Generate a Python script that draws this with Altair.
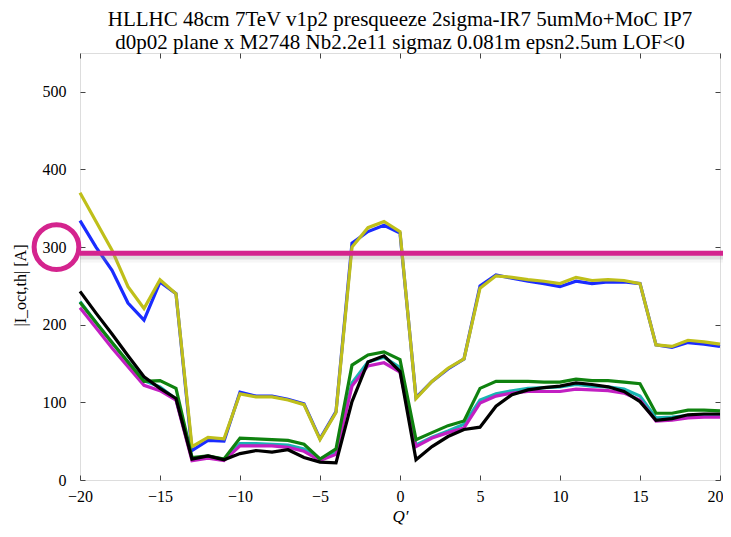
import altair as alt
import pandas as pd

q = list(range(-20, 21))

blue = [334, 300, 270, 228, 206, 255, 240, 38, 51, 50, 113, 108, 108, 104, 98, 53, 88, 305,
        320, 328, 318, 106, 127, 143, 156, 250, 264, 260, 256, 253, 249, 256, 253, 255, 255, 253,
        174, 171, 177, 175, 172]
yellow = [370, 333, 296, 249, 221, 258, 240, 43, 55, 53, 111, 107, 107, 103, 97, 52, 87, 300,
          325, 333, 320, 105, 127, 144, 156, 247, 263, 261, 258, 256, 253, 261, 257, 258, 257, 253,
          174, 172, 180, 178, 175]
cyan = [230, 203, 177, 152, 128, 120, 104, 28, 30, 27, 47, 47, 46, 45, 40, 27, 35, 125,
        152, 158, 145, 45, 55, 63, 72, 103, 111, 115, 118, 119, 120, 123, 121, 120, 117, 108,
        80, 81, 83, 84, 84]
magenta = [222, 196, 170, 146, 122, 115, 103, 25, 28, 25, 44, 44, 44, 42, 37, 25, 33, 121,
           147, 151, 139, 43, 54, 61, 67, 99, 108, 112, 114, 114, 114, 117, 116, 115, 112, 103,
           76, 77, 80, 81, 81]
green = [229, 203, 177, 152, 127, 128, 118, 29, 31, 27, 54, 53, 52, 51, 46, 27, 40, 148,
         161, 165, 155, 52, 61, 70, 76, 118, 127, 127, 127, 126, 126, 130, 128, 128, 126, 124,
         86, 86, 90, 90, 89]
black = [243, 215, 188, 160, 133, 118, 105, 27, 31, 26, 34, 38, 36, 39, 29, 23, 22, 101,
         152, 160, 140, 26, 43, 56, 65, 68, 95, 110, 116, 119, 121, 125, 123, 120, 114, 101,
         77, 79, 84, 85, 85]

series = [
    ("blue", blue, "#1a2cff"),
    ("yellow", yellow, "#bfbf1a"),
    ("cyan", cyan, "#1ab3b3"),
    ("magenta", magenta, "#c21fc2"),
    ("green", green, "#0f820f"),
    ("black", black, "#000000"),
]

x_ticks = [-20, -15, -10, -5, 0, 5, 10, 15, 20]
y_ticks = [0, 100, 200, 300, 400, 500]

threshold_x = [-20]
threshold_x2 = [20.5]
threshold_y = [292]
shadow_y = [288]
circle_x = [-21.47]
circle_y = [300]

title_lines = [
    "HLLHC 48cm 7TeV v1p2 presqueeze 2sigma-IR7 5umMo+MoC IP7",
    "d0p02 plane x M2748 Nb2.2e11 sigmaz 0.081m epsn2.5um LOF<0",
]

FONT = "Liberation Serif"
xscale = alt.Scale(domain=[-20, 20], nice=False, zero=False)
yscale = alt.Scale(domain=[0, 550], nice=False)

x_axis = alt.Axis(values=x_ticks, offset=-5, tickSize=5, tickWidth=1, tickColor="#444444",
                  domain=False, grid=False, labelFont=FONT, labelFontSize=16, labelColor="black",
                  labelFlush=False, labelPadding=8,
                  labelOffset={"condition": {"test": "datum.value == 20", "value": -5}, "value": 0},
                  title="Q′", titleFont=FONT, titleFontSize=17,
                  titleFontStyle="italic", titleFontWeight="normal", titleColor="black",
                  titleY=46, titleBaseline="alphabetic")
y_axis = alt.Axis(values=y_ticks, offset=-5, tickSize=5, tickWidth=1, tickColor="#444444",
                  domain=False, grid=False, labelFont=FONT, labelFontSize=16, labelColor="black",
                  labelFlush=False, labelPadding=14, title="|I_oct,th| [A]", titleFont=FONT,
                  titleFontSize=16, titleFontWeight="normal", titleColor="black", titleX=-65,
                  titleY=232, titleBaseline="middle", titleAngle=270, titleAlign="center")
x_top = alt.Axis(values=x_ticks, orient="top", offset=-5, tickSize=5, tickWidth=1,
                 tickColor="#444444", domain=False, grid=False, labels=False, title=None)
y_right = alt.Axis(values=y_ticks, orient="right", offset=-5, tickSize=5, tickWidth=1,
                   tickColor="#444444", domain=False, grid=False, labels=False, title=None)

layers = []
for i, (name, vals, col) in enumerate(series):
    df = pd.DataFrame({"q": q, "v": vals})
    if i == 0:
        enc = dict(x=alt.X("q:Q", scale=xscale, axis=x_axis),
                   y=alt.Y("v:Q", scale=yscale, axis=y_axis))
    else:
        enc = dict(x=alt.X("q:Q", scale=xscale, axis=None),
                   y=alt.Y("v:Q", scale=yscale, axis=None))
    layers.append(alt.Chart(df).mark_line(color=col, strokeWidth=3.2, strokeJoin="miter").encode(**enc))

hl = pd.DataFrame({"x": threshold_x, "x2": threshold_x2, "y": threshold_y, "ys": shadow_y})
shadow = alt.Chart(hl).mark_rule(color="#888888", strokeWidth=6, opacity=0.2).encode(
    x=alt.X("x:Q", scale=xscale, axis=None), x2="x2:Q",
    y=alt.Y("ys:Q", scale=yscale, axis=None))
shadow2 = alt.Chart(hl).mark_rule(color="#aaaaaa", strokeWidth=12, opacity=0.1).encode(
    x=alt.X("x:Q", scale=xscale, axis=None), x2="x2:Q",
    y=alt.Y("ys:Q", scale=yscale, axis=None))
rule = alt.Chart(hl).mark_rule(color="#d4248e", strokeWidth=5).encode(
    x=alt.X("x:Q", scale=xscale, axis=x_top), x2="x2:Q",
    y=alt.Y("y:Q", scale=yscale, axis=y_right))

cd = pd.DataFrame({"x": circle_x, "y": circle_y})
circle = alt.Chart(cd).mark_point(shape="circle", size=2000, filled=False, strokeWidth=5,
                                  color="#d4248e", opacity=1).encode(
    x=alt.X("x:Q", scale=xscale, axis=None),
    y=alt.Y("y:Q", scale=yscale, axis=None))

chart = alt.layer(*layers, shadow2, shadow, rule, circle).resolve_axis(
    x="independent", y="independent"
).properties(
    width=640, height=427,
    title=alt.TitleParams(text=title_lines, font=FONT, fontSize=21, fontWeight="normal",
                          color="black", anchor="middle", offset=0, lineHeight=23),
    autosize=alt.AutoSizeParams(type="none"),
    padding={"left": 72, "top": 45, "right": 3, "bottom": 49},
).configure_view(stroke="black", strokeWidth=2.5).configure(background="white")

chart.save("out.html", embed_options={"renderer": "svg", "actions": False})
